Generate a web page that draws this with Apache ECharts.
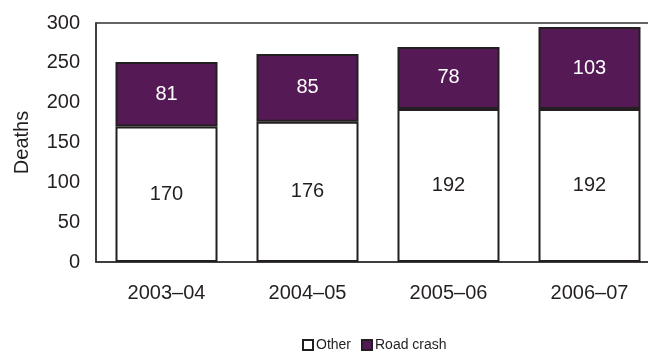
<!DOCTYPE html>
<html>
<head>
<meta charset="utf-8">
<script src="https://cdn.jsdelivr.net/npm/echarts@6/dist/echarts.min.js"></script>
<style>
html,body{margin:0;padding:0;background:#fff;overflow:hidden;width:648px;height:352px;}
#chart{width:660px;height:352px;}
</style>
</head>
<body>
<div id="chart"></div>
<script>
var categories = ['2003–04', '2004–05', '2005–06', '2006–07'];
var otherValues = [170, 176, 192, 192];
var roadCrashValues = [81, 85, 78, 103];
var yTicks = [0, 50, 100, 150, 200, 250, 300];

var textColor = '#231f20';
var font = 'Liberation Sans, Arial, sans-serif';

var chart = echarts.init(document.getElementById('chart'), null, {renderer: 'canvas', width: 660, height: 352});
chart.setOption({
  animation: false,
  textStyle: {fontFamily: font},
  grid: {
    left: 96, top: 23, right: 0, bottom: 90,
    show: true, borderColor: '#333', borderWidth: 1.5, backgroundColor: 'transparent'
  },
  legend: {
    left: 302, top: 338, padding: 0,
    itemWidth: 10, itemHeight: 10, itemGap: 10,
    icon: 'rect',
    textStyle: {fontSize: 14, color: textColor, fontFamily: font, padding: [0, 0, 0, -2]},
    data: ['Other', 'Road crash']
  },
  xAxis: {
    type: 'category',
    data: categories,
    axisLine: {show: true, lineStyle: {color: '#333', width: 1.5}},
    axisTick: {show: false},
    axisLabel: {fontSize: 20, color: textColor, margin: 21, fontFamily: font}
  },
  yAxis: {
    type: 'value',
    min: yTicks[0], max: yTicks[yTicks.length - 1], interval: 50,
    name: 'Deaths',
    nameLocation: 'middle',
    nameGap: 64,
    nameRotate: 90,
    nameTextStyle: {fontSize: 20, color: textColor, fontFamily: font},
    axisLine: {show: true, lineStyle: {color: '#333', width: 1.5}},
    axisTick: {show: false},
    splitLine: {show: false},
    axisLabel: {fontSize: 20, color: textColor, margin: 16, fontFamily: font}
  },
  series: [
    {
      name: 'Other', type: 'bar', stack: 'total',
      data: otherValues,
      barWidth: 102,
      itemStyle: {color: '#ffffff', borderColor: '#231f20', borderWidth: 2},
      label: {show: true, position: 'inside', fontSize: 20, color: textColor, fontFamily: font}
    },
    {
      name: 'Road crash', type: 'bar', stack: 'total',
      data: roadCrashValues,
      barWidth: 102,
      itemStyle: {color: '#551a55', borderColor: '#231f20', borderWidth: 2},
      label: {show: true, position: 'inside', fontSize: 20, color: '#ffffff', fontFamily: font}
    }
  ]
});
</script>
</body>
</html>
